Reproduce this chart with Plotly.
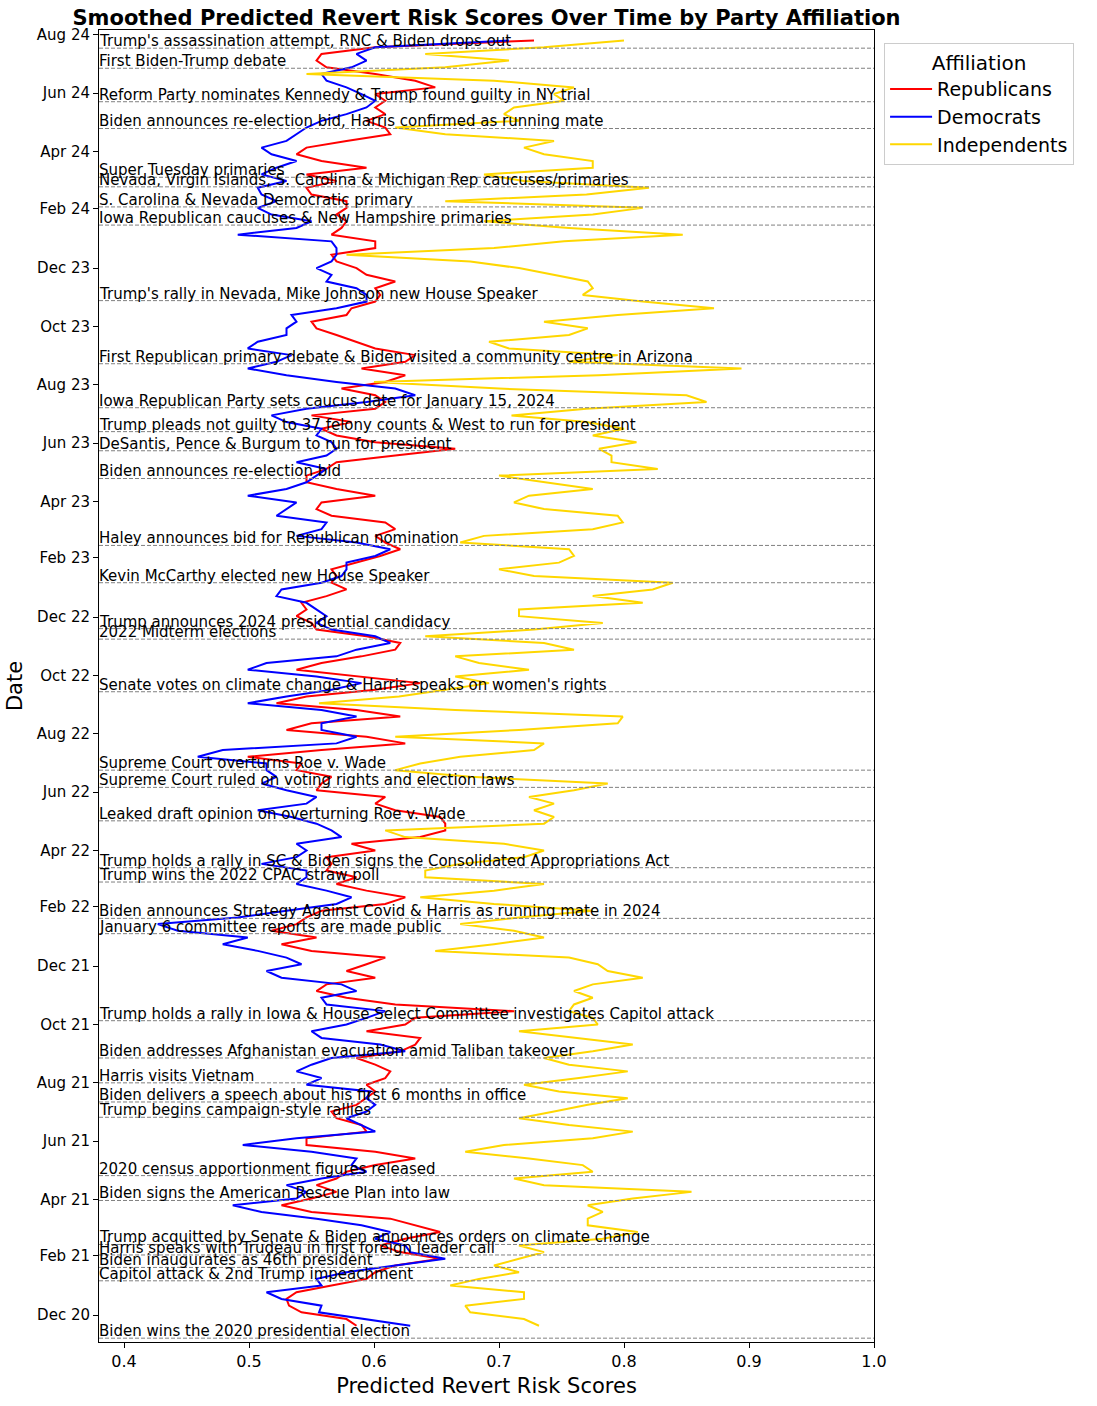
import pandas as pd
import plotly.graph_objects as go

# Weekly sample dates (categories)
dates = pd.date_range("2020-11-20", periods=193, freq="7D")

republicans = [
    0.586, 0.578, 0.542, 0.532, 0.530, 0.538, 0.566, 0.594, 0.601, 0.617,
    0.653, 0.621, 0.605, 0.625, 0.653, 0.633, 0.613, 0.550, 0.526, 0.550,
    0.570, 0.554, 0.570, 0.578, 0.601, 0.633, 0.601, 0.546, 0.546, 0.594,
    0.590, 0.570, 0.566, 0.586, 0.594, 0.601, 0.594, 0.609, 0.613, 0.601,
    0.586, 0.621, 0.633, 0.637, 0.594, 0.625, 0.633, 0.712, 0.617, 0.578,
    0.554, 0.562, 0.601, 0.578, 0.594, 0.609, 0.550, 0.526, 0.554, 0.518,
    0.538, 0.546, 0.558, 0.609, 0.625, 0.594, 0.570, 0.586, 0.562, 0.566,
    0.562, 0.601, 0.582, 0.637, 0.657, 0.657, 0.653, 0.617, 0.601, 0.609,
    0.554, 0.558, 0.566, 0.538, 0.542, 0.499, 0.558, 0.625, 0.594, 0.530,
    0.550, 0.621, 0.586, 0.522, 0.546, 0.601, 0.637, 0.586, 0.538, 0.558,
    0.590, 0.617, 0.621, 0.594, 0.554, 0.550, 0.538, 0.546, 0.542, 0.562,
    0.578, 0.566, 0.570, 0.566, 0.586, 0.605, 0.621, 0.609, 0.601, 0.617,
    0.609, 0.566, 0.554, 0.558, 0.601, 0.570, 0.546, 0.546, 0.562, 0.570,
    0.617, 0.665, 0.601, 0.570, 0.558, 0.582, 0.550, 0.601, 0.609, 0.601,
    0.574, 0.609, 0.625, 0.590, 0.625, 0.633, 0.601, 0.586, 0.570, 0.554,
    0.550, 0.578, 0.582, 0.601, 0.605, 0.601, 0.617, 0.594, 0.586, 0.570,
    0.566, 0.601, 0.601, 0.566, 0.574, 0.578, 0.570, 0.578, 0.578, 0.550,
    0.546, 0.570, 0.546, 0.594, 0.558, 0.538, 0.546, 0.578, 0.613, 0.609,
    0.594, 0.609, 0.601, 0.609, 0.601, 0.649, 0.633, 0.601, 0.562, 0.554,
    0.558, 0.601, 0.728,
]

democrats = [
    0.629, 0.594, 0.556, 0.558, 0.526, 0.514, 0.558, 0.554, 0.578, 0.617,
    0.657, 0.629, 0.625, 0.601, 0.613, 0.590, 0.554, 0.510, 0.487, 0.538,
    0.546, 0.530, 0.558, 0.594, 0.582, 0.586, 0.550, 0.495, 0.538, 0.601,
    0.590, 0.578, 0.594, 0.601, 0.594, 0.597, 0.546, 0.558, 0.538, 0.550,
    0.566, 0.625, 0.605, 0.558, 0.550, 0.578, 0.594, 0.609, 0.562, 0.558,
    0.586, 0.574, 0.526, 0.514, 0.542, 0.530, 0.507, 0.479, 0.499, 0.443,
    0.427, 0.491, 0.530, 0.570, 0.582, 0.562, 0.538, 0.546, 0.546, 0.510,
    0.538, 0.546, 0.538, 0.574, 0.566, 0.554, 0.534, 0.507, 0.546, 0.554,
    0.530, 0.510, 0.522, 0.514, 0.514, 0.459, 0.479, 0.570, 0.586, 0.558,
    0.558, 0.586, 0.558, 0.499, 0.530, 0.566, 0.590, 0.554, 0.499, 0.514,
    0.570, 0.586, 0.613, 0.601, 0.566, 0.554, 0.562, 0.554, 0.546, 0.522,
    0.526, 0.558, 0.574, 0.578, 0.578, 0.601, 0.613, 0.586, 0.538, 0.558,
    0.562, 0.522, 0.530, 0.538, 0.499, 0.530, 0.546, 0.554, 0.562, 0.538,
    0.562, 0.570, 0.566, 0.554, 0.558, 0.530, 0.518, 0.546, 0.594, 0.633,
    0.617, 0.570, 0.530, 0.499, 0.522, 0.534, 0.499, 0.507, 0.530, 0.530,
    0.538, 0.534, 0.570, 0.594, 0.594, 0.586, 0.562, 0.566, 0.554, 0.566,
    0.570, 0.570, 0.566, 0.491, 0.538, 0.550, 0.518, 0.507, 0.522, 0.510,
    0.507, 0.530, 0.510, 0.522, 0.538, 0.518, 0.510, 0.530, 0.538, 0.546,
    0.558, 0.578, 0.594, 0.601, 0.590, 0.578, 0.562, 0.558, 0.582, 0.594,
    0.586, 0.601, 0.708,
]

independents = [
    0.732, 0.720, 0.677, 0.673, 0.720, 0.720, 0.661, 0.684, 0.716, 0.696,
    0.716, 0.736, 0.716, 0.783, 0.811, 0.771, 0.771, 0.783, 0.771, 0.807,
    0.854, 0.736, 0.712, 0.775, 0.767, 0.724, 0.673, 0.704, 0.775, 0.807,
    0.756, 0.716, 0.744, 0.771, 0.803, 0.748, 0.720, 0.764, 0.803, 0.756,
    0.736, 0.775, 0.807, 0.760, 0.716, 0.779, 0.775, 0.756, 0.760, 0.775,
    0.760, 0.775, 0.815, 0.787, 0.779, 0.756, 0.649, 0.696, 0.736, 0.712,
    0.669, 0.716, 0.775, 0.696, 0.637, 0.696, 0.736, 0.641, 0.641, 0.669,
    0.720, 0.736, 0.704, 0.625, 0.609, 0.736, 0.744, 0.728, 0.744, 0.724,
    0.760, 0.787, 0.677, 0.617, 0.637, 0.669, 0.728, 0.736, 0.617, 0.716,
    0.795, 0.799, 0.665, 0.556, 0.620, 0.657, 0.692, 0.665, 0.724, 0.684,
    0.665, 0.760, 0.736, 0.641, 0.728, 0.783, 0.716, 0.716, 0.815, 0.775,
    0.823, 0.839, 0.728, 0.700, 0.748, 0.760, 0.756, 0.669, 0.688, 0.775,
    0.799, 0.795, 0.736, 0.712, 0.724, 0.775, 0.736, 0.700, 0.827, 0.790,
    0.790, 0.780, 0.810, 0.775, 0.800, 0.770, 0.710, 0.770, 0.866, 0.850,
    0.700, 0.600, 0.780, 0.894, 0.756, 0.795, 0.708, 0.692, 0.756, 0.771,
    0.736, 0.795, 0.872, 0.815, 0.767, 0.775, 0.771, 0.744, 0.716, 0.677,
    0.578, 0.696, 0.752, 0.847, 0.756, 0.688, 0.775, 0.815, 0.657, 0.770,
    0.820, 0.720, 0.688, 0.775, 0.775, 0.736, 0.720, 0.744, 0.657, 0.617,
    0.716, 0.704, 0.712, 0.752, 0.744, 0.760, 0.696, 0.546, 0.657, 0.708,
    0.641, 0.736, 0.800,
]

event_dates = [
    "2020-11-07", "2021-01-06", "2021-01-20", "2021-02-02", "2021-02-13",
    "2021-03-31", "2021-04-26", "2021-06-26", "2021-07-12", "2021-08-01",
    "2021-08-27", "2021-10-05", "2022-01-04", "2022-01-20", "2022-02-27",
    "2022-03-14", "2022-05-02", "2022-06-06", "2022-06-24", "2022-09-14",
    "2022-11-08", "2022-11-19", "2023-01-06", "2023-02-14", "2023-04-25",
    "2023-05-24", "2023-06-13", "2023-07-08", "2023-08-23", "2023-10-28",
    "2024-01-15", "2024-02-03", "2024-02-24", "2024-03-05", "2024-04-25",
    "2024-05-23", "2024-06-27", "2024-07-18",
]
event_labels = [
    "Biden wins the 2020 presidential election",
    "Capitol attack & 2nd Trump impeachment",
    "Biden inaugurates as 46th president",
    "Harris speaks with Trudeau in first foreign leader call",
    "Trump acquitted by Senate & Biden announces orders on climate change",
    "Biden signs the American Rescue Plan into law",
    "2020 census apportionment figures released",
    "Trump begins campaign-style rallies",
    "Biden delivers a speech about his first 6 months in office",
    "Harris visits Vietnam",
    "Biden addresses Afghanistan evacuation amid Taliban takeover",
    "Trump holds a rally in Iowa & House Select Committee investigates Capitol attack",
    "January 6 committee reports are made public",
    "Biden announces Strategy Against Covid & Harris as running mate in 2024",
    "Trump wins the 2022 CPAC straw poll",
    "Trump holds a rally in SC & Biden signs the Consolidated Appropriations Act",
    "Leaked draft opinion on overturning Roe v. Wade",
    "Supreme Court ruled on voting rights and election laws",
    "Supreme Court overturns Roe v. Wade",
    "Senate votes on climate change & Harris speaks on women's rights",
    "2022 Midterm elections",
    "Trump announces 2024 presidential candidacy",
    "Kevin McCarthy elected new House Speaker",
    "Haley announces bid for Republican nomination",
    "Biden announces re-election bid",
    "DeSantis, Pence & Burgum to run for president",
    "Trump pleads not guilty to 37 felony counts & West to run for president",
    "Iowa Republican Party sets caucus date for January 15, 2024",
    "First Republican primary debate & Biden visited a community centre in Arizona",
    "Trump's rally in Nevada, Mike Johnson new House Speaker",
    "Iowa Republican caucuses & New Hampshire primaries",
    "S. Carolina & Nevada Democratic primary",
    "Nevada, Virgin Islands, S. Carolina & Michigan Rep caucuses/primaries",
    "Super Tuesday primaries",
    "Biden announces re-election bid, Harris confirmed as running mate",
    "Reform Party nominates Kennedy & Trump found guilty in NY trial",
    "First Biden-Trump debate",
    "Trump's assassination attempt, RNC & Biden drops out",
]

tick_dates = pd.date_range("2020-12-01", "2024-08-01", freq="2MS")

series = [
    ("Republicans", republicans, "#ff0000"),
    ("Democrats", democrats, "#0000ff"),
    ("Independents", independents, "#ffd700"),
]

FONT = "DejaVu Sans"
fig = go.Figure()
for name, vals, color in series:
    fig.add_trace(go.Scatter(x=vals, y=dates, mode="lines", name=name,
                             line=dict(color=color, width=2)))

shapes = []
annotations = []
for d, lab in zip(event_dates, event_labels):
    shapes.append(dict(type="line", xref="paper", x0=0, x1=1, yref="y", y0=d, y1=d,
                       line=dict(color="#808080", width=1, dash="4px,2px"), layer="above"))
    annotations.append(dict(xref="paper", x=0, yref="y", y=d, text=lab, showarrow=False,
                            xanchor="left", yanchor="bottom", yshift=-4, xshift=-2,
                            font=dict(family=FONT, size=15, color="black")))

fig.update_layout(
    width=1097, height=1406,
    margin=dict(l=99, r=223, t=30, b=61),
    paper_bgcolor="white", plot_bgcolor="white",
    font=dict(family=FONT, color="black"),
    title=dict(text="<b>Smoothed Predicted Revert Risk Scores Over Time by Party Affiliation</b>",
               x=0.5, xref="paper", xanchor="center", y=1 - 18 / 1406, yref="container",
               yanchor="middle", font=dict(family=FONT, size=21, color="black")),
    shapes=shapes, annotations=annotations,
    legend=dict(x=1.013, y=0.99, xanchor="left", yanchor="top",
                bordercolor="#cccccc", borderwidth=1, bgcolor="white",
                font=dict(family=FONT, size=19), tracegroupgap=0, itemwidth=42,
                title=dict(text="Affiliation", side="top center", font=dict(family=FONT, size=20))),
    showlegend=True,
)
fig.update_xaxes(range=[0.38, 1.0], tickvals=[0.4, 0.5, 0.6, 0.7, 0.8, 0.9, 1.0],
                 tickformat=".1f", ticks="outside", ticklen=5, tickcolor="black",
                 showline=True, linecolor="black", linewidth=1, mirror=True,
                 showgrid=False, zeroline=False, tickfont=dict(size=16),
                 title=dict(text="Predicted Revert Risk Scores", font=dict(size=21), standoff=8))
fig.update_yaxes(type="date", range=["2020-11-03", "2024-08-06"], tickvals=tick_dates,
                 tickformat="%b %y", ticks="outside", ticklen=5, tickcolor="black",
                 showline=True, linecolor="black", linewidth=1, mirror=True,
                 showgrid=False, zeroline=False, tickfont=dict(size=15),
                 title=dict(text="Date", font=dict(size=21), standoff=8))

fig.write_html("out.html")
